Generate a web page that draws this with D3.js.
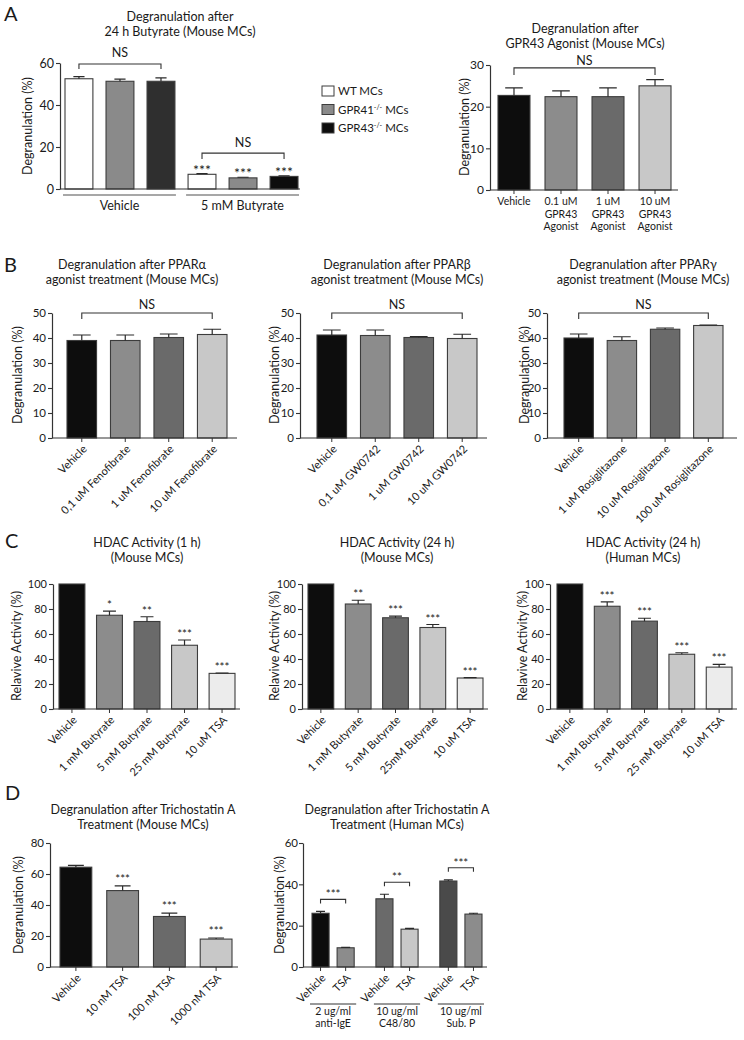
<!DOCTYPE html>
<html><head><meta charset="utf-8">
<script src="https://cdn.jsdelivr.net/npm/d3@7"></script>
<style>
body{margin:0;background:#fff}
svg{display:block}
text{font-family:Lato,"Open Sans",sans-serif;fill:#1a1a1a}
</style></head>
<body><svg id="fig" width="744" height="1040"></svg>
<script>
// ---------------- DATA ----------------
// Panel A (left): Degranulation after 24 h Butyrate
const aGroups = ["Vehicle", "5 mM Butyrate"];
const aGenotypes = ["WT", "GPR41", "GPR43"];
const aMeans = [52.5, 51.3, 51.3, 7.0, 5.3, 6.0];
const aSems  = [1.0, 1.0, 1.6, 0.3, 0.3, 0.3];
const aStars = ["", "", "", "***", "***", "***"];
const aTicks = [0, 20, 40, 60];
const aLegend = [["WT MCs", ""], ["GPR41", "-/-"], ["GPR43", "-/-"]];

// Panel A (right): GPR43 agonist
const gprCats = ["Vehicle", "0.1 uM GPR43 Agonist", "1 uM GPR43 Agonist", "10 uM GPR43 Agonist"];
const gprTickLines = [["Vehicle"], ["0.1 uM", "GPR43", "Agonist"], ["1 uM", "GPR43", "Agonist"], ["10 uM", "GPR43", "Agonist"]];
const gprMeans = [22.7, 22.4, 22.4, 25.0];
const gprSems  = [1.8, 1.4, 2.1, 1.5];
const gprTicks = [0, 10, 20, 30];

// Panel B: PPAR agonists
const pparAlphaCats = ["Vehicle", "0,1 uM Fenofibrate", "1 uM Fenofibrate", "10 uM Fenofibrate"];
const pparAlphaMeans = [39.0, 39.0, 40.2, 41.4];
const pparAlphaSems  = [2.2, 2.2, 1.4, 2.1];
const pparBetaCats = ["Vehicle", "0,1 uM GW0742", "1 uM GW0742", "10 uM GW0742"];
const pparBetaMeans = [41.2, 41.0, 40.2, 39.8];
const pparBetaSems  = [2.0, 2.2, 0.4, 1.7];
const pparGammaCats = ["Vehicle", "1 uM Rosiglitazone", "10 uM Rosiglitazone", "100 uM Rosiglitazone"];
const pparGammaMeans = [40.0, 39.0, 43.5, 45.0];
const pparGammaSems  = [1.6, 1.5, 0.5, 0.2];
const pparTicks = [0, 10, 20, 30, 40, 50];

// Panel C: HDAC activity
const hdac1Cats = ["Vehicle", "1 mM Butyrate", "5 mM Butyrate", "25 mM Butyrate", "10 uM TSA"];
const hdac1Means = [100, 75.0, 70.0, 51.0, 28.5];
const hdac1Sems  = [0, 3.3, 3.8, 4.2, 0.3];
const hdac1Stars = ["", "*", "**", "***", "***"];
const hdac2Cats = ["Vehicle", "1 mM Butyrate", "5 mM Butyrate", "25mM Butyrate", "10 uM TSA"];
const hdac2Means = [100, 84.0, 73.0, 65.2, 24.8];
const hdac2Sems  = [0, 3.0, 1.3, 2.4, 0.3];
const hdac2Stars = ["", "**", "***", "***", "***"];
const hdac3Cats = ["Vehicle", "1 mM Butyrate", "5 mM Butyrate", "25 mM Butyrate", "10 uM TSA"];
const hdac3Means = [100, 82.2, 70.3, 43.8, 33.5];
const hdac3Sems  = [0, 3.5, 2.3, 1.2, 2.2];
const hdac3Stars = ["", "***", "***", "***", "***"];
const hdacTicks = [0, 20, 40, 60, 80, 100];

// Panel D: Trichostatin A
const tsaMouseCats = ["Vehicle", "10 nM TSA", "100 nM TSA", "1000 nM TSA"];
const tsaMouseMeans = [64.4, 49.3, 32.6, 18.0];
const tsaMouseSems  = [1.2, 3.0, 2.1, 0.7];
const tsaMouseStars = ["", "***", "***", "***"];
const tsaMouseTicks = [0, 20, 40, 60, 80];

const tsaHumanStimuli = ["2 ug/ml anti-IgE", "10 ug/ml C48/80", "10 ug/ml Sub. P"];
const tsaHumanStimLines = [["2 ug/ml", "anti-IgE"], ["10 ug/ml", "C48/80"], ["10 ug/ml", "Sub. P"]];
const tsaHumanTreat = ["Vehicle", "TSA"];
const tsaHumanVehicle = [26.0, 33.0, 41.6];
const tsaHumanVehicleSem = [0.9, 2.2, 0.6];
const tsaHumanTSA = [9.3, 18.3, 25.6];
const tsaHumanTSASem = [0.2, 0.4, 0.4];
const tsaHumanStars = ["***", "**", "***"];
const tsaHumanTicks = [0, 20, 40, 60];

// ---------------- DRAWING ----------------
const svg = d3.select("#fig");
const AX = "#333";

function title(x, y, lines) {
  const t = svg.append("text").attr("x", x).attr("y", y).attr("text-anchor", "middle")
    .style("font-size", "12.5px");
  lines.forEach((l, i) => t.append("tspan").attr("x", x).attr("dy", i ? "1.2em" : 0).text(l));
}
function letter(x, y, s) {
  svg.append("text").attr("x", x).attr("y", y).style("font-size", "20px").text(s);
}
function ylabel(x, yc, s) {
  svg.append("text").attr("transform", `translate(${x},${yc}) rotate(-90)`)
    .attr("text-anchor", "middle").attr("dy", "0.35em").style("font-size", "12.5px").text(s);
}
function styleY(ya, fs) {
  ya.select(".domain").attr("stroke", AX).attr("stroke-width", 1.2);
  ya.selectAll(".tick line").attr("stroke", AX).attr("stroke-width", 1.1);
  ya.selectAll("text").style("font-size", fs + "px").style("font-family", "Lato").attr("fill", "#1a1a1a");
}

function panel(o) {
  const g = svg.append("g");
  const x = d3.scaleBand().domain(o.cats).range([o.x0, o.x1]).paddingInner(o.pad).paddingOuter(0);
  const y = d3.scaleLinear().domain([0, o.max]).range([o.y0, o.yTop]);
  const bw = x.bandwidth();
  const ya = g.append("g").attr("transform", `translate(${o.axisX},0)`)
    .call(d3.axisLeft(y).tickValues(o.ticks).tickSize(4).tickSizeOuter(0).tickPadding(2));
  styleY(ya, o.tickFs);

  g.selectAll("rect.bar").data(o.cats).join("rect").attr("class", "bar")
    .attr("x", d => x(d)).attr("width", bw)
    .attr("y", (d, i) => y(o.means[i])).attr("height", (d, i) => y(0) - y(o.means[i]))
    .attr("fill", (d, i) => o.colors[i]).attr("stroke", "#3c3c3c").attr("stroke-width", 1.1);

  const cap = bw * o.capFrac / 2;
  o.cats.forEach((c, i) => {
    if (!o.sems[i]) return;
    const cx = x(c) + bw / 2, t = y(o.means[i] + o.sems[i]);
    g.append("path").attr("d", `M${cx},${y(o.means[i])}V${t}M${cx - cap},${t}H${cx + cap}`)
      .attr("stroke", "#2a2a2a").attr("stroke-width", 1.2).attr("fill", "none");
  });

  g.append("line").attr("x1", o.axisX).attr("x2", o.axisEnd).attr("y1", o.y0).attr("y2", o.y0)
    .attr("stroke", AX).attr("stroke-width", 1.2);

  if (o.xticks) {
    o.cats.forEach(c => {
      const cx = x(c) + bw / 2;
      g.append("line").attr("x1", cx).attr("x2", cx).attr("y1", o.y0).attr("y2", o.y0 + 4).attr("stroke", AX);
    });
  }
  if (o.rot) {
    o.cats.forEach(c => {
      const cx = x(c) + bw / 2;
      g.append("text").attr("transform", `translate(${cx + 3},${o.y0 + 9}) rotate(-45)`)
        .attr("text-anchor", "end").attr("dy", "0.35em").style("font-size", "11px").text(c);
    });
  }
  if (o.tickLines) {
    o.cats.forEach((c, i) => {
      const cx = x(c) + bw / 2;
      o.tickLines[i].forEach((l, k) => g.append("text").attr("x", cx).attr("y", o.y0 + 15 + k * 12.5)
        .attr("text-anchor", "middle").style("font-size", "10.5px").text(l));
    });
  }
  if (o.stars) {
    o.cats.forEach((c, i) => {
      if (!o.stars[i]) return;
      const cx = x(c) + bw / 2;
      g.append("text").attr("x", cx).attr("y", y(o.means[i] + o.sems[i]) - o.starGap)
        .attr("text-anchor", "middle").style("font-size", o.starSize + "px").attr("fill", "#333").text(o.stars[i]);
    });
  }
  (o.brackets || []).forEach(b => {
    const xa = x(o.cats[b.from]) + bw / 2, xb = x(o.cats[b.to]) + bw / 2, yb = y(b.value);
    g.append("path").attr("d", `M${xa},${yb + b.drop}V${yb}H${xb}V${yb + b.drop}`)
      .attr("stroke", "#333").attr("stroke-width", 1.1).attr("fill", "none");
    g.append("text").attr("x", (xa + xb) / 2).attr("y", yb - b.gap).attr("text-anchor", "middle")
      .style("font-size", "12.5px").text(b.text);
  });
  return { x, y, g };
}

// ---- Panel A ----
letter(4, 21, "A");
title(180, 21, ["Degranulation after", "24 h Butyrate (Mouse MCs)"]);
const aKeys = [];
aGroups.forEach(gr => aGenotypes.forEach(ge => aKeys.push(gr + "|" + ge)));
const pA = panel({
  cats: aKeys, means: aMeans, sems: aSems, x0: 65, x1: 298, pad: 0.32,
  y0: 189, yTop: 63, max: 60, ticks: aTicks, axisX: 60, axisEnd: 300, tickFs: 12.5,
  colors: ["#ffffff", "#8a8a8a", "#2f2f2f", "#ffffff", "#8a8a8a", "#0d0d0d"],
  capFrac: 0.4, stars: aStars, starSize: 14, starGap: -1,
  brackets: [{ from: 0, to: 2, value: 59.5, drop: 5, text: "NS", gap: 7 },
             { from: 3, to: 5, value: 17.1, drop: 6, text: "NS", gap: 6 }]
});
ylabel(28, 126, "Degranulation (%)");
aGroups.forEach((gr, gi) => {
  const first = aKeys[gi * 3], last = aKeys[gi * 3 + 2];
  const xa = pA.x(first) - 2, xb = pA.x(last) + pA.x.bandwidth() + 1;
  svg.append("line").attr("x1", xa).attr("x2", xb).attr("y1", 195).attr("y2", 195)
    .attr("stroke", "#8a8a8a").attr("stroke-width", 1.5);
  svg.append("text").attr("x", (xa + xb) / 2).attr("y", 210).attr("text-anchor", "middle")
    .style("font-size", "12.5px").text(gr);
});
// legend
const legFill = ["#ffffff", "#8a8a8a", "#0d0d0d"];
aLegend.forEach((l, i) => {
  const yy = 86 + i * 18.5;
  svg.append("rect").attr("x", 322).attr("y", yy).attr("width", 12).attr("height", 10)
    .attr("fill", legFill[i]).attr("stroke", "#3c3c3c");
  const t = svg.append("text").attr("x", 338).attr("y", yy + 9).style("font-size", "11.5px");
  t.append("tspan").text(l[0]);
  if (l[1]) {
    t.append("tspan").attr("dy", -4).style("font-size", "7px").text(l[1]);
    t.append("tspan").attr("dy", 4).text(" MCs");
  }
});

title(585, 33, ["Degranulation after", "GPR43 Agonist (Mouse MCs)"]);
panel({
  cats: gprCats, means: gprMeans, sems: gprSems, x0: 498, x1: 671, pad: 0.32,
  y0: 190, yTop: 65, max: 30, ticks: gprTicks, axisX: 490, axisEnd: 678, tickFs: 12,
  colors: ["#0d0d0d", "#8c8c8c", "#6a6a6a", "#c8c8c8"], capFrac: 0.55,
  xticks: true, tickLines: gprTickLines,
  brackets: [{ from: 0, to: 3, value: 29.3, drop: 7, text: "NS", gap: 3 }]
});
ylabel(465, 127, "Degranulation (%)");

// ---- Panel B ----
letter(4, 272, "B");
const pparColors = ["#0d0d0d", "#8c8c8c", "#6a6a6a", "#c8c8c8"];
const pparSets = [
  { cats: pparAlphaCats, means: pparAlphaMeans, sems: pparAlphaSems, x0: 67, x1: 227, axisX: 52, axisEnd: 237, tx: 132, lx: 18, t: "Degranulation after PPARα" },
  { cats: pparBetaCats, means: pparBetaMeans, sems: pparBetaSems, x0: 317, x1: 477, axisX: 300, axisEnd: 487, tx: 397, lx: 275, t: "Degranulation after PPARβ" },
  { cats: pparGammaCats, means: pparGammaMeans, sems: pparGammaSems, x0: 564, x1: 723, axisX: 547, axisEnd: 737, tx: 643, lx: 525, t: "Degranulation after PPARγ" }
];
pparSets.forEach(s => {
  title(s.tx, 269, [s.t, "agonist treatment (Mouse MCs)"]);
  panel({
    cats: s.cats, means: s.means, sems: s.sems, x0: s.x0, x1: s.x1, pad: 0.32,
    y0: 438, yTop: 313, max: 50, ticks: pparTicks, axisX: s.axisX, axisEnd: s.axisEnd, tickFs: 11.5,
    colors: pparColors, capFrac: 0.6, xticks: true, rot: true,
    brackets: [{ from: 0, to: 3, value: 50, drop: 6, text: "NS", gap: 4 }]
  });
  ylabel(s.lx, 375, "Degranulation (%)");
});

// ---- Panel C ----
letter(5, 548, "C");
const hdacColors = ["#0d0d0d", "#8c8c8c", "#6a6a6a", "#c8c8c8", "#ececec"];
const hdacSets = [
  { cats: hdac1Cats, means: hdac1Means, sems: hdac1Sems, stars: hdac1Stars, x0: 59, x1: 235, axisX: 53, axisEnd: 240, tx: 147, lx: 17, t: ["HDAC Activity (1 h)", "(Mouse MCs)"] },
  { cats: hdac2Cats, means: hdac2Means, sems: hdac2Sems, stars: hdac2Stars, x0: 308, x1: 483, axisX: 302, axisEnd: 488, tx: 397, lx: 275, t: ["HDAC Activity (24 h)", "(Mouse MCs)"] },
  { cats: hdac3Cats, means: hdac3Means, sems: hdac3Sems, stars: hdac3Stars, x0: 557, x1: 732, axisX: 550, axisEnd: 737, tx: 643, lx: 523, t: ["HDAC Activity (24 h)", "(Human MCs)"] }
];
hdacSets.forEach(s => {
  title(s.tx, 547, s.t);
  panel({
    cats: s.cats, means: s.means, sems: s.sems, x0: s.x0, x1: s.x1, pad: 0.31,
    y0: 709, yTop: 584, max: 100, ticks: hdacTicks, axisX: s.axisX, axisEnd: s.axisEnd, tickFs: 11,
    colors: hdacColors, capFrac: 0.5, xticks: true, rot: true,
    stars: s.stars, starSize: 11.5, starGap: 2
  });
  ylabel(s.lx, 646, "Relavive Activity (%)");
});

// ---- Panel D ----
letter(5, 800, "D");
title(143, 814, ["Degranulation after Trichostatin A", "Treatment (Mouse MCs)"]);
panel({
  cats: tsaMouseCats, means: tsaMouseMeans, sems: tsaMouseSems, x0: 60, x1: 232, pad: 0.32,
  y0: 967, yTop: 843, max: 80, ticks: tsaMouseTicks, axisX: 50, axisEnd: 238, tickFs: 11.5,
  colors: ["#0d0d0d", "#8c8c8c", "#6a6a6a", "#c8c8c8"], capFrac: 0.5, xticks: true, rot: true,
  stars: tsaMouseStars, starSize: 11.5, starGap: 3
});
ylabel(19, 905, "Degranulation (%)");

title(397, 814, ["Degranulation after Trichostatin A", "Treatment (Human MCs)"]);
(function () {
  const g = svg.append("g");
  const x0 = d3.scaleBand().domain(tsaHumanStimuli).range([312, 482]).paddingInner(0.34).paddingOuter(0);
  const x1 = d3.scaleBand().domain(tsaHumanTreat).range([0, x0.bandwidth()]).paddingInner(0.32).paddingOuter(0);
  const y = d3.scaleLinear().domain([0, 60]).range([967, 843]);
  const ya = g.append("g").attr("transform", "translate(303,0)")
    .call(d3.axisLeft(y).tickValues(tsaHumanTicks).tickSize(4).tickSizeOuter(0).tickPadding(1));
  styleY(ya, 11.5);
  const colors = [["#0d0d0d", "#8c8c8c"], ["#6a6a6a", "#c8c8c8"], ["#4a4a4a", "#8c8c8c"]];
  const bw = x1.bandwidth();
  tsaHumanStimuli.forEach((st, gi) => {
    const vals = [tsaHumanVehicle[gi], tsaHumanTSA[gi]];
    const sems = [tsaHumanVehicleSem[gi], tsaHumanTSASem[gi]];
    const centers = [];
    tsaHumanTreat.forEach((tr, k) => {
      const bx = x0(st) + x1(tr), cx = bx + bw / 2;
      centers.push(cx);
      g.append("rect").attr("x", bx).attr("width", bw).attr("y", y(vals[k])).attr("height", y(0) - y(vals[k]))
        .attr("fill", colors[gi][k]).attr("stroke", "#3c3c3c").attr("stroke-width", 1.1);
      const t = y(vals[k] + sems[k]);
      g.append("path").attr("d", `M${cx},${y(vals[k])}V${t}M${cx - 4.5},${t}H${cx + 4.5}`)
        .attr("stroke", "#2a2a2a").attr("stroke-width", 1.2).attr("fill", "none");
      g.append("line").attr("x1", cx).attr("x2", cx).attr("y1", 967).attr("y2", 971).attr("stroke", AX);
      g.append("text").attr("transform", `translate(${cx + 3},${976}) rotate(-45)`)
        .attr("text-anchor", "end").attr("dy", "0.35em").style("font-size", "11px").text(tr);
    });
    const top = Math.max(vals[0] + sems[0], vals[1] + sems[1]);
    const by = y(top) - 12;
    g.append("path").attr("d", `M${centers[0]},${by + 4}V${by}H${centers[1]}V${by + 4}`)
      .attr("stroke", "#333").attr("stroke-width", 1.1).attr("fill", "none");
    g.append("text").attr("x", (centers[0] + centers[1]) / 2).attr("y", by - 1).attr("text-anchor", "middle")
      .style("font-size", "11.5px").attr("fill", "#333").text(tsaHumanStars[gi]);
    const xa = x0(st) - 2, xb = x0(st) + x0.bandwidth() + 2;
    g.append("line").attr("x1", xa).attr("x2", xb).attr("y1", 1004).attr("y2", 1004).attr("stroke", "#333");
    tsaHumanStimLines[gi].forEach((l, k) => g.append("text").attr("x", (xa + xb) / 2).attr("y", 1015 + k * 12)
      .attr("text-anchor", "middle").style("font-size", "10.5px").text(l));
  });
  g.append("line").attr("x1", 303).attr("x2", 487).attr("y1", 967).attr("y2", 967).attr("stroke", AX).attr("stroke-width", 1.2);
})();
ylabel(280, 905, "Degranulation (%)");
</script></body></html>
